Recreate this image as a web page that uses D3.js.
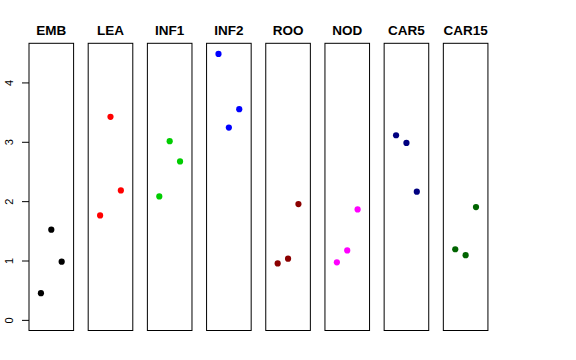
<!DOCTYPE html>
<html><head><meta charset="utf-8">
<script src="https://cdn.jsdelivr.net/npm/d3@7"></script>
<style>body{margin:0;background:#fff}svg{display:block}</style>
</head><body><svg id="c" width="576" height="360"></svg>
<script>
const panels = ["EMB","LEA","INF1","INF2","ROO","NOD","CAR5","CAR15"];
const colors = ["#000000","#ff0000","#00cd00","#0000ff","#8b0000","#ff00ff","#000080","#006400"];
const positions = [1,2,3];
const values = [
  [0.45,1.52,0.98],
  [1.76,3.42,2.18],
  [2.08,3.01,2.67],
  [4.48,3.24,3.55],
  [0.95,1.03,1.95],
  [0.97,1.17,1.86],
  [3.11,2.98,2.16],
  [1.19,1.09,1.90]
];
const yTicks = [0,1,2,3,4];

const svg = d3.select("#c");
const plotTop = 43.3, plotBottom = 330.5, left0 = 29, step = 59.19, pw = 44.6;
const ymax = d3.max(values.flat());
const ypad = ymax*0.04;
const y = d3.scaleLinear().domain([0-ypad, ymax+ypad]).range([plotBottom, plotTop]);

panels.forEach((p,i)=>{
  const x0 = left0 + i*step;
  const x = d3.scaleLinear().domain([-0.15, 4.15]).range([x0, x0+pw]);
  const g = svg.append("g");
  g.append("rect").attr("x",x0).attr("y",plotTop).attr("width",pw).attr("height",plotBottom-plotTop)
    .attr("fill","none").attr("stroke","#000").attr("stroke-width",1);
  g.append("text").attr("x",x0+pw/2).attr("y",34.5).attr("text-anchor","middle")
    .attr("font-family","Liberation Sans, Arial, sans-serif").attr("font-weight","bold").attr("font-size",13.5)
    .text(p);
  g.selectAll("circle").data(values[i]).join("circle")
    .attr("cx",(d,j)=>x(positions[j])).attr("cy",d=>y(d)).attr("r",3.1).attr("fill",colors[i]);
});

const ax = svg.append("g").attr("transform",`translate(${left0},0)`)
  .call(d3.axisLeft(y).tickValues(yTicks).tickSize(7).tickSizeOuter(0).tickFormat(d3.format("d")));
ax.select(".domain").remove();
ax.selectAll("line").attr("stroke","#000");
ax.selectAll(".tick text")
  .attr("font-family","Liberation Sans, Arial, sans-serif").attr("font-size",11).attr("fill","#000")
  .attr("x",0).attr("y",0).attr("dy","0.35em").attr("text-anchor","middle")
  .attr("transform","translate(-20,0) rotate(-90)");
</script></body></html>
